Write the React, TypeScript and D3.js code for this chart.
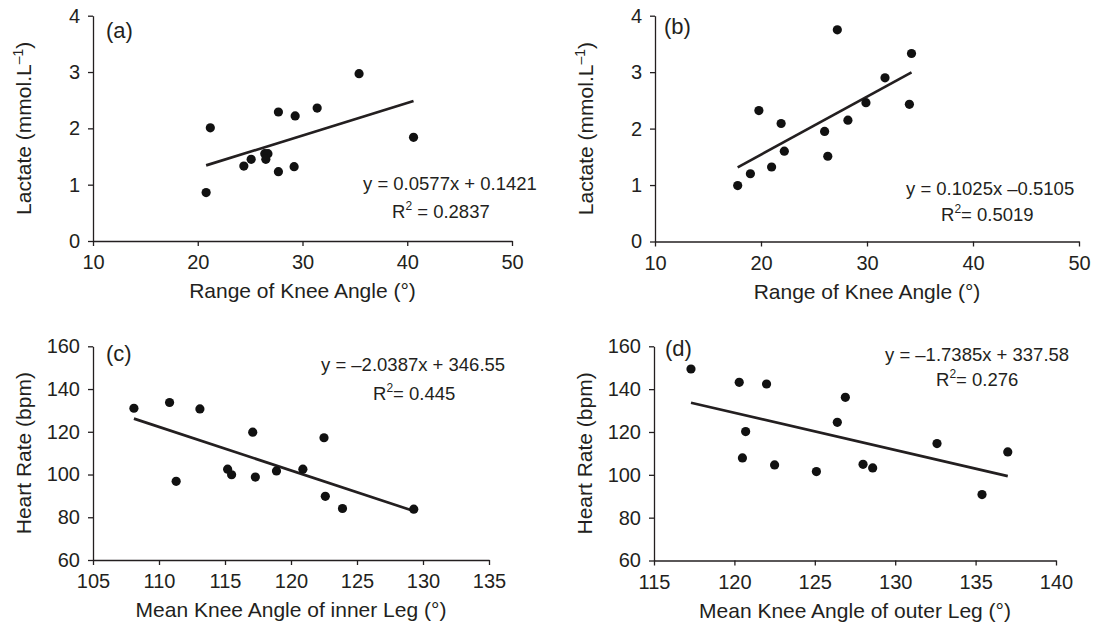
import React, { useEffect, useRef } from "react";
import * as d3 from "d3";

// (a) lactate vs range of knee angle
const rangeA = [20.8, 21.2, 24.4, 25.1, 26.4, 26.7, 26.5, 27.7, 27.7, 29.2, 29.3, 31.4, 35.4, 40.6];
const lactateA = [0.86, 2.01, 1.33, 1.45, 1.55, 1.55, 1.45, 2.29, 1.23, 1.32, 2.22, 2.36, 2.97, 1.84];
// (b)
const rangeB = [17.8, 19.0, 19.8, 21.0, 21.9, 22.2, 26.0, 26.3, 27.2, 28.2, 29.9, 31.7, 34.0, 34.2];
const lactateB = [0.99, 1.2, 2.32, 1.32, 2.09, 1.6, 1.95, 1.51, 3.75, 2.15, 2.46, 2.9, 2.43, 3.33];
// (c) heart rate vs mean knee angle, inner leg
const innerC = [108.1, 110.8, 111.3, 113.1, 115.2, 115.5, 117.1, 117.3, 118.9, 120.9, 122.5, 122.6, 123.9, 129.3];
const hrC = [131, 133.7, 96.8, 130.7, 102.5, 99.9, 119.8, 98.8, 101.7, 102.5, 117.2, 89.8, 84.1, 83.8];
// (d) heart rate vs mean knee angle, outer leg
const outerD = [117.3, 120.3, 120.5, 120.7, 122.0, 122.5, 125.1, 126.4, 126.9, 128.0, 128.6, 132.6, 135.4, 137.0];
const hrD = [149.4, 143.2, 107.9, 120.2, 142.4, 104.6, 101.5, 124.5, 136.2, 104.9, 103.2, 114.6, 90.8, 110.7];

// tick values
const lactateTicks = [0, 1, 2, 3, 4];
const rangeTicks = [10, 20, 30, 40, 50];
const hrTicks = [60, 80, 100, 120, 140, 160];
const innerTicks = [105, 110, 115, 120, 125, 130, 135];
const outerTicks = [115, 120, 125, 130, 135, 140];

// linear fits as printed
const fitA = { slope: 0.0577, intercept: 0.1421, eq: "y = 0.0577x + 0.1421", r2: " = 0.2837" };
const fitB = { slope: 0.1025, intercept: -0.5105, eq: "y = 0.1025x \u20130.5105", r2: "= 0.5019" };
const fitC = { slope: -2.0387, intercept: 346.55, eq: "y = \u20132.0387x + 346.55", r2: "= 0.445" };
const fitD = { slope: -1.7385, intercept: 337.58, eq: "y = \u20131.7385x + 337.58", r2: "= 0.276" };

const FONT = "'Liberation Sans', Arial, Helvetica, sans-serif";
const INK = "#231f20";

const panels = [
  {
    tag: "(a)", xs: rangeA, ys: lactateA, fit: fitA,
    xDom: [10, 50], yDom: [0, 4], xTicks: rangeTicks, yTicks: lactateTicks,
    left: 93, right: 512, top: 15.7, bottom: 241,
    xTitle: "Range of Knee Angle (\u00b0)", yTitle: "Lactate (mmol.L", ySup: "\u20131", yEnd: ")",
    tagPos: [106, 38], eq1: [363, 190], eq2: [392, 218],
  },
  {
    tag: "(b)", xs: rangeB, ys: lactateB, fit: fitB,
    xDom: [10, 50], yDom: [0, 4], xTicks: rangeTicks, yTicks: lactateTicks,
    left: 655, right: 1079, top: 15.7, bottom: 241.5,
    xTitle: "Range of Knee Angle (\u00b0)", yTitle: "Lactate (mmol.L", ySup: "\u20131", yEnd: ")",
    tagPos: [664, 34], eq1: [906, 195], eq2: [941, 221],
  },
  {
    tag: "(c)", xs: innerC, ys: hrC, fit: fitC,
    xDom: [105, 135], yDom: [60, 160], xTicks: innerTicks, yTicks: hrTicks,
    left: 93, right: 489, top: 346.3, bottom: 560,
    xTitle: "Mean Knee Angle of inner Leg (\u00b0)", yTitle: "Heart Rate (bpm)", ySup: "", yEnd: "",
    tagPos: [106, 361], eq1: [321, 371], eq2: [373, 400],
  },
  {
    tag: "(d)", xs: outerD, ys: hrD, fit: fitD,
    xDom: [115, 140], yDom: [60, 160], xTicks: outerTicks, yTicks: hrTicks,
    left: 654, right: 1056, top: 346.3, bottom: 560.5,
    xTitle: "Mean Knee Angle of outer Leg (\u00b0)", yTitle: "Heart Rate (bpm)", ySup: "", yEnd: "",
    tagPos: [665, 356], eq1: [885, 361], eq2: [936, 386],
  },
];

export default function App() {
  const svgRef = useRef<SVGSVGElement | null>(null);

  useEffect(() => {
    const svg = d3.select(svgRef.current);
    svg.selectAll("*").remove();

    panels.forEach((p) => {
      const x = d3.scaleLinear().domain(p.xDom).range([p.left, p.right]);
      const y = d3.scaleLinear().domain(p.yDom).range([p.bottom, p.top]);
      const g = svg.append("g");

      // axes
      const xAxis = g.append("g")
        .attr("transform", `translate(0,${p.bottom})`)
        .call(d3.axisBottom(x).tickValues(p.xTicks).tickSize(5).tickSizeOuter(0).tickPadding(9).tickFormat(d3.format("d")));
      const yAxis = g.append("g")
        .attr("transform", `translate(${p.left},0)`)
        .call(d3.axisLeft(y).tickValues(p.yTicks).tickSize(5).tickSizeOuter(0).tickPadding(8).tickFormat(d3.format("d")));
      [xAxis, yAxis].forEach((a) => {
        a.attr("font-family", FONT).attr("font-size", 20);
        a.selectAll("path, line").attr("stroke", INK).attr("stroke-width", 1.3);
        a.selectAll("text").attr("fill", INK);
      });

      // fitted line across the data range
      const [x0, x1] = d3.extent(p.xs) as [number, number];
      g.append("line")
        .attr("x1", x(x0)).attr("y1", y(p.fit.slope * x0 + p.fit.intercept))
        .attr("x2", x(x1)).attr("y2", y(p.fit.slope * x1 + p.fit.intercept))
        .attr("stroke", INK).attr("stroke-width", 2.7);

      // points
      g.selectAll("circle")
        .data(p.xs.map((v, i) => [v, p.ys[i]]))
        .enter()
        .append("circle")
        .attr("cx", (d) => x(d[0]))
        .attr("cy", (d) => y(d[1]))
        .attr("r", 4.6)
        .attr("fill", "#111");

      // titles
      g.append("text")
        .attr("x", (p.left + p.right) / 2)
        .attr("y", p.bottom + 57)
        .attr("text-anchor", "middle")
        .attr("font-family", FONT).attr("font-size", 21).attr("fill", INK)
        .text(p.xTitle);

      const yt = g.append("text")
        .attr("transform", `translate(${p.left - 62},${(p.top + p.bottom) / 2}) rotate(-90)`)
        .attr("text-anchor", "middle")
        .attr("font-family", FONT).attr("font-size", 21).attr("fill", INK);
      yt.append("tspan").text(p.yTitle);
      if (p.ySup) {
        yt.append("tspan").attr("dy", -8).attr("font-size", 14).text(p.ySup);
        yt.append("tspan").attr("dy", 8).text(p.yEnd);
      }

      g.append("text")
        .attr("x", p.tagPos[0]).attr("y", p.tagPos[1])
        .attr("font-family", FONT).attr("font-size", 22).attr("fill", INK)
        .text(p.tag);

      // equation
      g.append("text")
        .attr("x", p.eq1[0]).attr("y", p.eq1[1])
        .attr("font-family", FONT).attr("font-size", 18.5).attr("fill", INK)
        .text(p.fit.eq);
      const r2 = g.append("text")
        .attr("x", p.eq2[0]).attr("y", p.eq2[1])
        .attr("font-family", FONT).attr("font-size", 18.5).attr("fill", INK);
      r2.append("tspan").text("R");
      r2.append("tspan").attr("dy", -8).attr("font-size", 12).text("2");
      r2.append("tspan").attr("dy", 8).text(p.fit.r2);
    });
  }, []);

  return (
    <svg
      ref={svgRef}
      width={1096}
      height={625}
      style={{ position: "absolute", left: 0, top: 0, background: "#fff" }}
    />
  );
}
